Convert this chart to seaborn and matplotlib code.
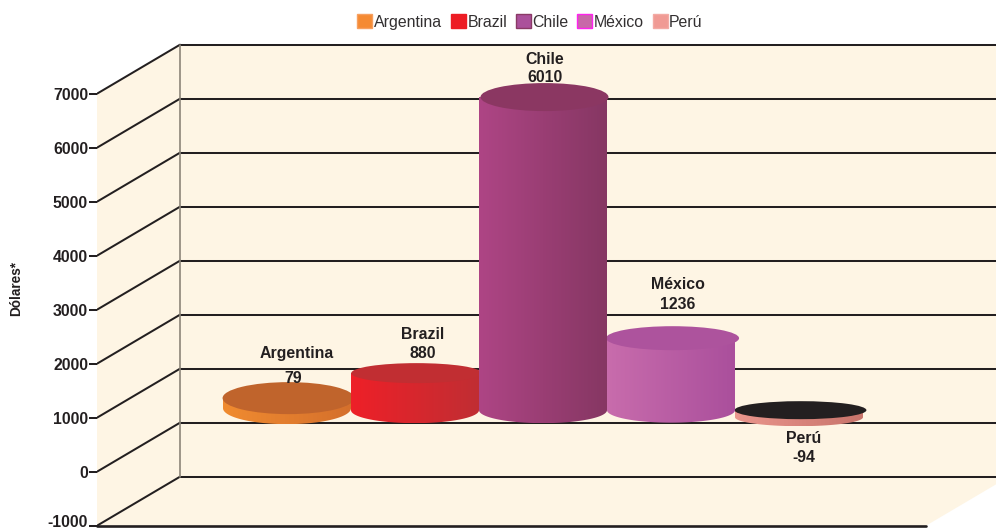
import numpy as np
import pandas as pd
import matplotlib
matplotlib.use("Agg")
import matplotlib.pyplot as plt
from matplotlib.patches import Ellipse, Patch, Polygon
from matplotlib.colors import LinearSegmentedColormap
from matplotlib.transforms import ScaledTranslation
import seaborn as sns

# ---- data ----
categories = ["Argentina", "Brazil", "Chile", "México", "Perú"]
printed_values = [79, 880, 6010, 1236, -94]          # numbers printed in the labels
drawn_tops = [455, 918, 6030, 1565, 232]             # cylinder tops as read against the axis
drawn_bases = [269, 232, 232, 232, 102]              # cylinder bases as read against the axis
y_ticks = [-1000, 0, 1000, 2000, 3000, 4000, 5000, 6000, 7000]
y_tick_labels = ["-1000", "0", "1000", "2000", "3000", "4000", "5000", "6000", "7000"]
y_title = "Dólares*"

# ---- style ----
INK = "#231f20"
WALL = "#fef5e4"
body_left = ["#f08b30", "#ee2028", "#ae4585", "#c86cac", "#ea968d"]
body_right = ["#d5702c", "#c02e33", "#863763", "#aa4f9c", "#c8746b"]
top_colors = ["#c0642c", "#c12e32", "#8b3762", "#ad539d", "#231f20"]
swatch_fill = ["#f58a32", "#ed1c24", "#ab519b", "#c868a8", "#f09a94"]
swatch_edge = ["#f7a060", "#ed1c24", "#8a3a66", "#ff22ee", "#f3aaa4"]
top_width = [1.03, 1.02, 1.0, 1.04, 1.03]
top_ry_px = [16, 10, 14, 12, 9]
base_ry_px = [16, 13, 13, 12.5, 9]
draw_order = [3, 4, 7, 6, 5]
name_offset = [(10, 45), (8, 39), (2, 38), (7, 54), (5, -28)]
value_offset = [(6, 20), (8, 20), (2, 20), (7, 34), (5, -47)]

W, H = 996, 529
PX_PER_UNIT = 0.0540          # vertical pixels per axis unit
PX_PER_CAT = 128.0            # horizontal pixels per category
ZERO_PX = 471.7               # pixel row of the front zero
DEPTH_V = 49 / PX_PER_UNIT    # wall depth in axis units
DEPTH_X = 83 / PX_PER_CAT     # wall depth in categories
FS = 11.4

sns.set_theme(style="white", rc={"axes.facecolor": "none"})
plt.rcParams["font.family"] = ["Liberation Sans", "DejaVu Sans"]

fig = plt.figure(figsize=(W / 100, H / 100), dpi=100, facecolor="white")
ax = fig.add_axes([97 / W, 0, (W - 97) / W, 1])

x_lo, x_hi = (97 - 287) / PX_PER_CAT, (W - 287) / PX_PER_CAT
y_lo, y_hi = (ZERO_PX - H) / PX_PER_UNIT, ZERO_PX / PX_PER_UNIT
front_l, front_r = x_lo, (926 - 287) / PX_PER_CAT
back_l, back_r = front_l + DEPTH_X, front_r + DEPTH_X
vmin, vmax = y_ticks[0], y_ticks[-1]

# walls
ax.add_patch(Polygon([(front_l, vmax), (back_l, vmax + DEPTH_V), (back_r, vmax + DEPTH_V),
                      (back_r, vmin + DEPTH_V), (front_r, vmin), (front_l, vmin)],
                     closed=True, facecolor=WALL, edgecolor="none", zorder=0))
# grid
for v in y_ticks:
    ax.plot([back_l, back_r], [v + DEPTH_V] * 2, color=INK, lw=1.45, zorder=1, solid_capstyle="butt")
    ax.plot([front_l, back_l], [v, v + DEPTH_V], color=INK, lw=1.45, zorder=1)
ax.plot([front_l, front_r], [vmin, vmin], color=INK, lw=1.9, zorder=1, clip_on=False)
ax.plot([back_l, back_l], [vmin + DEPTH_V, vmax + DEPTH_V], color="#8c8579", lw=1.2, zorder=1)

# cylinders
df = pd.DataFrame({"pais": categories,
                   "alto": np.array(drawn_tops) - np.array(drawn_bases)})
sns.barplot(data=df, x="pais", y="alto", hue="pais", order=categories, hue_order=categories,
            palette=dict(zip(categories, body_left)), dodge=False, width=1.0, saturation=1,
            legend=False, ax=ax, linewidth=0)

rects = [r for c in ax.containers for r in c]
t = np.linspace(np.pi, 2 * np.pi, 80)
for i, p in enumerate(rects):
    z = draw_order[i]
    base = drawn_bases[i] + DEPTH_V
    top = drawn_tops[i] + DEPTH_V
    p.set_y(base)
    p.set_zorder(z)
    xs = i + 0.5 * np.cos(t)
    ys = base + base_ry_px[i] / PX_PER_UNIT * np.sin(t)
    outline = Polygon(np.r_[np.c_[xs, ys], [[i + 0.5, top], [i - 0.5, top]]],
                      closed=True, transform=ax.transData)
    cmap = LinearSegmentedColormap.from_list("c", [body_left[i], body_right[i]])
    im = ax.imshow(np.linspace(0, 1, 128)[None, :], cmap=cmap, aspect="auto", interpolation="bilinear",
                   extent=(i - 0.5, i + 0.5, base - base_ry_px[i] / PX_PER_UNIT, top),
                   zorder=z + 0.1)
    im.set_clip_path(outline)
    ax.add_patch(Ellipse((i + 1.5 / PX_PER_CAT, top), top_width[i],
                         2 * top_ry_px[i] / PX_PER_UNIT, facecolor=top_colors[i],
                         edgecolor="none", zorder=z + 0.2))
    ax.annotate(categories[i], (i, top), xytext=name_offset[i],
                textcoords="offset pixels", ha="center", va="center",
                fontsize=FS, fontweight="bold", color=INK, zorder=20)
    ax.annotate(str(printed_values[i]), (i, top), xytext=value_offset[i],
                textcoords="offset pixels", ha="center", va="center",
                fontsize=FS, fontweight="bold", color=INK, zorder=20)

# axes
ax.set_xlim(x_lo, x_hi)
ax.set_ylim(y_lo, y_hi)
ax.set_xticks([])
ax.set_xlabel("")
ax.set_yticks(y_ticks, y_tick_labels)
ax.tick_params(axis="y", left=True, length=5.8, width=1.45, pad=0.6, color=INK,
               labelsize=FS, labelcolor=INK)
for lab in ax.get_yticklabels():
    lab.set_fontweight("bold")
# keep the lowest tick label inside the canvas
low = ax.get_yticklabels()[0]
low.set_transform(low.get_transform() + ScaledTranslation(0, 5 / 100, fig.dpi_scale_trans))
for s in ax.spines.values():
    s.set_visible(False)
ax.set_ylabel(y_title, fontsize=9.8, fontweight="bold", color=INK)
ax.yaxis.set_label_coords(23 / W, 1 - 288 / H, transform=fig.transFigure)

# legend
handles = [Patch(facecolor=f, edgecolor=e, linewidth=1, label=c)
           for f, e, c in zip(swatch_fill, swatch_edge, categories)]
fig.legend(handles=handles, loc="center", bbox_to_anchor=(530 / W, 1 - 22 / H), ncol=5,
           frameon=False, fontsize=FS, handlelength=0.95, handleheight=0.95,
           handletextpad=0.1, columnspacing=0.55, borderpad=0, labelcolor="#333031")

fig.savefig("out.png", dpi=100)
